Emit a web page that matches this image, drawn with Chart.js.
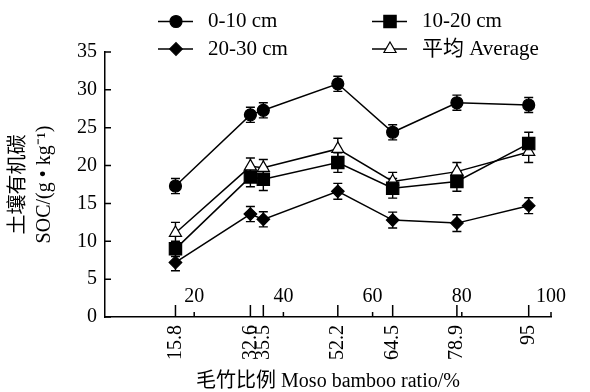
<!DOCTYPE html>
<html>
<head>
<meta charset="utf-8">
<script src="https://cdn.jsdelivr.net/npm/chart.js@4/dist/chart.umd.min.js"></script>
<style>
  html, body { margin: 0; padding: 0; background: #fff; }
</style>
</head>
<body>
<canvas id="soc_chart" width="590" height="392"></canvas>
<script>
// moso bamboo ratio (%) of each stand
var ratios = [15.8, 32.6, 35.5, 52.2, 64.5, 78.9, 95];
var axisTicks = [20, 40, 60, 80, 100];

// SOC g/kg by soil layer, with error bars
var soc0_10  = [17.3, 26.7, 27.3, 30.8, 24.4, 28.3, 28.0];
var err0_10  = [1.0, 1.0, 1.0, 1.0, 1.0, 1.0, 1.0];
var soc10_20 = [9.0, 18.5, 18.2, 20.4, 17.0, 17.9, 22.9];
var err10_20 = [1.0, 1.3, 1.5, 1.3, 1.3, 1.3, 1.5];
var soc20_30 = [7.2, 13.6, 12.9, 16.6, 12.8, 12.4, 14.7];
var err20_30 = [1.1, 1.0, 1.0, 1.05, 1.05, 1.1, 1.05];
var socAvg   = [11.1, 19.9, 19.7, 22.2, 17.9, 19.2, 21.8];
var errAvg   = [1.4, 1.1, 1.1, 1.4, 1.2, 1.2, 1.4];

var serif = "'Liberation Serif', 'Noto Sans CJK SC', serif";

function points(vals){
    return ratios.map(function(r, i){ return {x: r, y: vals[i]}; });
}

function series(label, vals, errs, style, radius, fill){
    return {
        label: label,
        data: points(vals),
        errors: errs,
        borderColor: '#000',
        borderWidth: 1.5,
        pointStyle: style,
        pointRadius: radius,
        pointHoverRadius: radius,
        pointBackgroundColor: fill,
        pointBorderColor: '#000',
        pointBorderWidth: 1.2,
        tension: 0,
        fill: false
    };
}

// legend slots: [x, y] of the line start
var legendPos = [[158, 21.5], [372, 21.5], [158, 49], [372, 49]];

var decor = {
    id: 'decor',
    beforeDatasetsDraw: function(chart){
        var ctx = chart.ctx, xs = chart.scales.x, ys = chart.scales.y;
        ctx.save();
        ctx.strokeStyle = '#000';
        ctx.lineWidth = 1.4;
        chart.data.datasets.forEach(function(ds){
            ds.data.forEach(function(p, i){
                var x = xs.getPixelForValue(p.x);
                var y1 = ys.getPixelForValue(p.y + ds.errors[i]);
                var y2 = ys.getPixelForValue(p.y - ds.errors[i]);
                ctx.beginPath();
                ctx.moveTo(x, y1); ctx.lineTo(x, y2);
                ctx.moveTo(x - 4.5, y1); ctx.lineTo(x + 4.5, y1);
                ctx.moveTo(x - 4.5, y2); ctx.lineTo(x + 4.5, y2);
                ctx.stroke();
            });
        });
        ctx.restore();
    },
    afterDraw: function(chart){
        var ctx = chart.ctx, xs = chart.scales.x, ys = chart.scales.y;
        var area = chart.chartArea;
        ctx.save();
        ctx.strokeStyle = '#000';
        ctx.fillStyle = '#000';
        ctx.lineWidth = 1.5;
        ctx.beginPath();
        // y ticks point inward
        ys.ticks.forEach(function(t){
            var y = ys.getPixelForValue(t.value);
            ctx.moveTo(area.left, y); ctx.lineTo(area.left + 6, y);
        });
        // long ticks at sampled ratios
        ratios.forEach(function(r){
            var x = xs.getPixelForValue(r);
            ctx.moveTo(x, area.bottom); ctx.lineTo(x, area.bottom - 12);
        });
        // short ticks at 20..100
        axisTicks.forEach(function(v){
            var x = xs.getPixelForValue(v);
            ctx.moveTo(x, area.bottom); ctx.lineTo(x, area.bottom - 5);
        });
        ctx.stroke();

        ctx.font = '20px ' + serif;
        ctx.textAlign = 'center';
        ctx.textBaseline = 'middle';
        axisTicks.forEach(function(v){
            ctx.fillText(String(v), xs.getPixelForValue(v), area.bottom - 20);
        });

        // legend
        ctx.font = '21px ' + serif;
        ctx.textAlign = 'left';
        chart.data.datasets.forEach(function(ds, i){
            var lx = legendPos[i][0], ly = legendPos[i][1];
            ctx.lineWidth = 1.5;
            ctx.beginPath();
            ctx.moveTo(lx, ly); ctx.lineTo(lx + 35, ly);
            ctx.stroke();
            ctx.fillStyle = ds.pointBackgroundColor;
            ctx.lineWidth = ds.pointBorderWidth;
            Chart.helpers.drawPoint(ctx, {
                pointStyle: ds.pointStyle, radius: ds.pointRadius,
                rotation: 0, borderWidth: ds.pointBorderWidth
            }, lx + 18, ly);
            ctx.fillStyle = '#000';
            ctx.fillText(ds.label, lx + 50, ly);
        });
        ctx.restore();
    }
};

var ctx = document.getElementById('soc_chart').getContext('2d');
var myChart = new Chart(ctx, {
    type: 'line',
    data: {
        datasets: [
            series('0-10 cm', soc0_10, err0_10, 'circle', 6, '#000'),
            series('10-20 cm', soc10_20, err10_20, 'rect', 8.7, '#000'),
            series('20-30 cm', soc20_30, err20_30, 'rectRot', 6.3, '#000'),
            series('平均 Average', socAvg, errAvg, 'triangle', 7, '#fff')
        ]
    },
    options: {
        responsive: false,
        devicePixelRatio: 1,
        animation: false,
        events: [],
        layout: { padding: { left: 0, right: 39, top: 52, bottom: 0 } },
        plugins: {
            legend: { display: false },
            tooltip: { enabled: false }
        },
        scales: {
            x: {
                type: 'linear',
                min: 0,
                max: 100,
                afterBuildTicks: function(scale){
                    scale.ticks = ratios.map(function(r){ return {value: r}; });
                },
                afterFit: function(scale){ scale.height = 75; },
                grid: { display: false, drawTicks: false },
                border: { display: true, color: '#000', width: 1.5 },
                ticks: {
                    autoSkip: false,
                    minRotation: 90,
                    maxRotation: 90,
                    padding: 8,
                    color: '#000',
                    font: { family: serif, size: 20 },
                    callback: function(v){ return String(v); }
                },
                title: {
                    display: true,
                    text: '毛竹比例 Moso bamboo ratio/%',
                    color: '#000',
                    font: { family: serif, size: 20, lineHeight: 1.0 },
                    padding: { top: 0, bottom: 0 }
                }
            },
            y: {
                min: 0,
                max: 35,
                afterFit: function(scale){ scale.width = 105; },
                grid: { display: false, drawTicks: false },
                border: { display: true, color: '#000', width: 1.5 },
                ticks: {
                    stepSize: 5,
                    padding: 8,
                    color: '#000',
                    font: { family: serif, size: 20 }
                },
                title: {
                    display: true,
                    text: ['土壤有机碳', 'SOC/(g • kg⁻¹)'],
                    color: '#000',
                    font: { family: serif, size: 20, lineHeight: 1.3 },
                    padding: { top: 6, bottom: 0 }
                }
            }
        }
    },
    plugins: [decor]
});
</script>
</body>
</html>
